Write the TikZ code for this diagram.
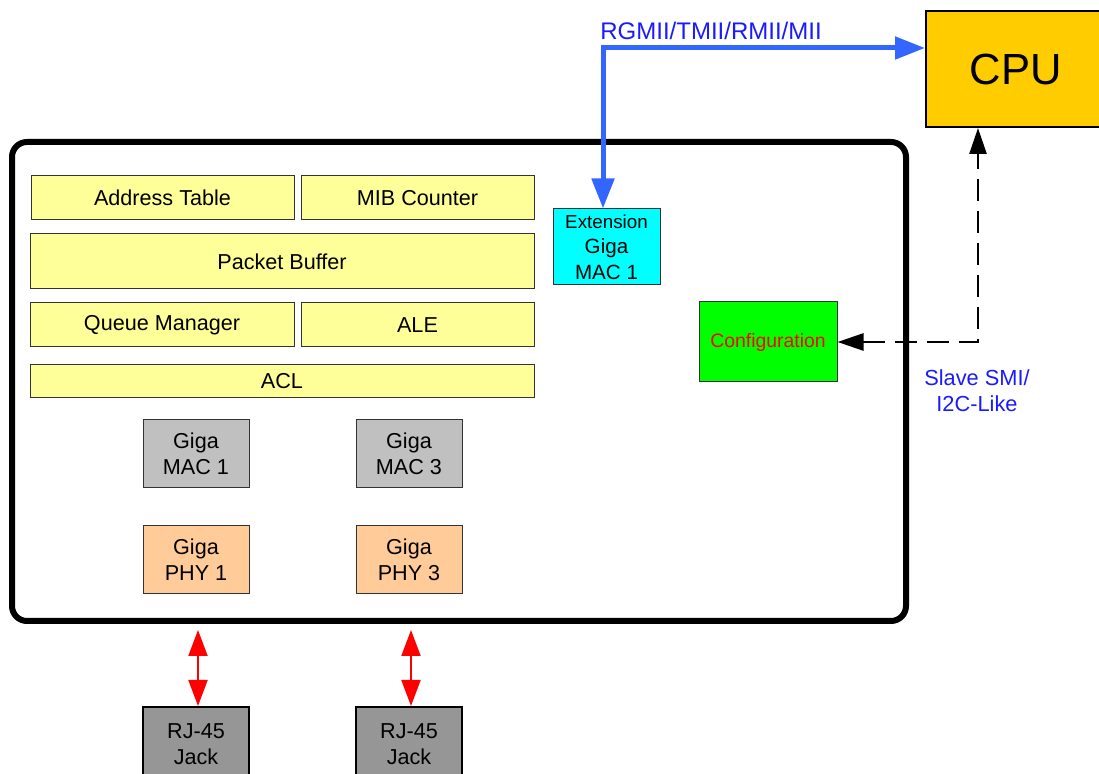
\documentclass[tikz,border=0pt]{standalone}
\usepackage{fontspec}
\setmainfont{Liberation Sans}
\usetikzlibrary{arrows.meta, calc}

\definecolor{blockyellow}{HTML}{FFFF99}
\definecolor{macgray}{HTML}{C0C0C0}
\definecolor{phyorange}{HTML}{FFCC99}
\definecolor{jackgray}{HTML}{969696}
\definecolor{cpuorange}{HTML}{FFCC00}
\definecolor{extcyan}{HTML}{00FFFF}
\definecolor{configgreen}{HTML}{00FF00}
\definecolor{wireblue}{HTML}{3366FF}
\definecolor{textblue}{HTML}{1A1AFF}

\tikzset{
    block/.style={draw=black!80, line width=0.5pt, inner sep=0pt, align=center,
        font=\fontsize{10.8pt}{13pt}\selectfont},
    yblock/.style={block, fill=blockyellow},
    macblock/.style={block, fill=macgray, minimum width=53pt, minimum height=34pt},
    phyblock/.style={block, fill=phyorange, minimum width=53pt, minimum height=34pt},
    jackblock/.style={block, draw=black, line width=1pt, fill=jackgray, minimum width=53pt, minimum height=37pt},
    bluewire/.style={draw=wireblue, line width=2.5pt, {Triangle[length=15pt,width=11pt]}-{Triangle[length=15pt,width=11pt]}},
    redwire/.style={draw=red, line width=1pt, {Triangle[length=13pt,width=9.5pt]}-{Triangle[length=13pt,width=9.5pt]}},
    dashwire/.style={draw=black, line width=1.3pt, dash pattern=on 11pt off 5pt, {Triangle[length=13pt,width=8.5pt]}-{Triangle[length=13pt,width=8.5pt]}}
}

\begin{document}
\begin{tikzpicture}[x=0.5pt, y=-0.5pt]
        \useasboundingbox (0,0) rectangle (1099,774);
        \clip (0,0) rectangle (1099,774);

        % switch chip
        \draw[line width=3pt, rounded corners=7.5pt] (12,142) rectangle (906,621);

        \node[yblock, minimum width=131.5pt, minimum height=22pt] (addr) at (162.5,198) {Address Table};
        \node[yblock, minimum width=116.5pt, minimum height=22pt] (mib) at (417.5,198) {MIB Counter};
        \node[yblock, minimum width=252pt, minimum height=27.5pt] (buf) at (282,261.5) {Packet Buffer};
        \node[yblock, minimum width=132pt, minimum height=22pt] (queue) at (162,325) {Queue Manager};
        \node[yblock, minimum width=116.5pt, minimum height=22pt] (ale) at (417.5,325) {ALE};
        \node[yblock, minimum width=252pt, minimum height=16.5pt] (acl) at (282,381.5) {ACL};

        % ports
        \foreach \p/\x in {1/196,3/409} {
            \node[macblock] (mac\p) at (\x,454) {Giga\\MAC \p};
            \node[phyblock] (phy\p) at (\x,560) {Giga\\PHY \p};
            \node[jackblock] (jack\p) at (\x,744) {RJ-45\\Jack};
            \coordinate (port\p) at (\x+2,630);
            \draw[redwire] (port\p) -- (port\p |- jack\p.north);
        }

        \node[block, fill=extcyan, minimum width=53.5pt, minimum height=38pt,
            font=\fontsize{10.3pt}{12.75pt}\selectfont] (ext) at (606.5,247)
            {{\fontsize{9.4pt}{12.75pt}\selectfont Extension}\\Giga\\MAC 1};
        \node[block, fill=configgreen, text=red, minimum width=69pt, minimum height=40pt,
            font=\fontsize{9.7pt}{12pt}\selectfont] (config) at (768,342) {Configuration};

        % host side
        \node[block, draw=black, line width=1pt, fill=cpuorange, minimum width=90pt, minimum height=58pt,
            font=\fontsize{21.8pt}{26pt}\selectfont] (cpu) at (1016,69) {CPU};

        \coordinate (bend) at (603,48);
        \draw[bluewire] (bend |- ext.north) -- (bend) -- (cpu.west |- bend);
        \node[anchor=base west, text=textblue, inner sep=0pt, font=\fontsize{12pt}{14pt}\selectfont]
            (rgmii) at (600,40) {RGMII/TMII/RMII/MII};

        \coordinate (smi) at (978,342);
        \draw[dashwire] (config.east) -- (smi) -- (smi |- cpu.south);
        \node[text=textblue, align=center, inner sep=0pt, font=\fontsize{10.9pt}{13pt}\selectfont]
            (smilabel) at (977,391) {Slave SMI/\\I2C-Like};
    \end{tikzpicture}
\end{document}
